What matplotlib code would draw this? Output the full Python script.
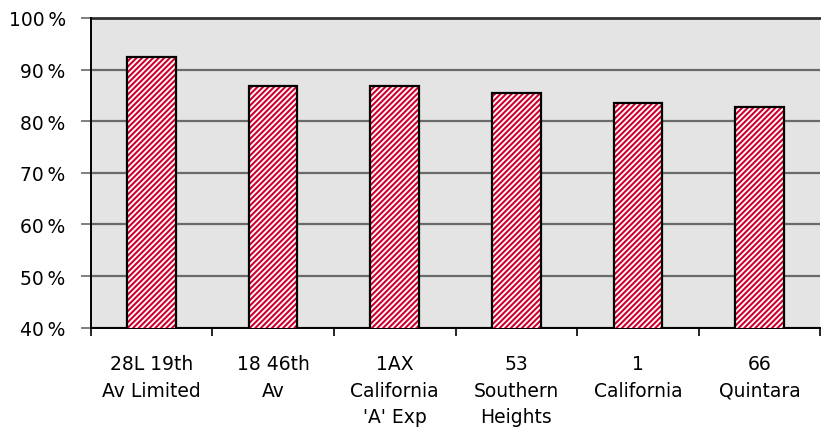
import numpy as np
import matplotlib
matplotlib.use('Agg')
import matplotlib.pyplot as plt
from matplotlib.ticker import FixedLocator, FuncFormatter

routes = ['28L 19th\nAv Limited', '18 46th\nAv', "1AX\nCalifornia\n'A' Exp",
          '53\nSouthern\nHeights', '1\nCalifornia', '66\nQuintara']
share = [92.4, 86.9, 86.9, 85.4, 83.5, 82.7]
yticks = [40, 50, 60, 70, 80, 90, 100]

plt.rcParams['font.family'] = ['DejaVu Sans']
plt.rcParams['hatch.linewidth'] = 1.5

fig = plt.figure(figsize=(8.21, 4.35), dpi=100)
ax = fig.add_axes([0.1105, 0.2444, 0.8887, 0.712])
ax.set_facecolor('#e4e4e4')

x = np.arange(len(routes))
# hatched fill first, black outline on top
ax.bar(x, share, width=0.4, color='white', edgecolor='#d0002e',
       hatch='//////', linewidth=0, zorder=3)
ax.bar(x, share, width=0.4, color='none', edgecolor='black', linewidth=1.6, zorder=4)

ax.set_ylim(40, 100)
ax.set_xlim(-0.5, len(routes) - 0.5)
ax.set_yticks(yticks)
ax.yaxis.set_major_formatter(FuncFormatter(lambda v, p: f'{v:.0f}\u2009%'))
ax.grid(axis='y', color='#6a6a6a', linewidth=1.6, zorder=1)
ax.set_axisbelow(True)
ax.axhline(100, color='#333333', linewidth=2, zorder=2, clip_on=False)

ax.set_xticks(x)
ax.set_xticklabels(routes, fontsize=13.5, linespacing=1.5, va='top')
ax.xaxis.set_minor_locator(FixedLocator(np.arange(len(routes) + 1) - 0.5))
ax.tick_params(axis='x', which='major', length=0, pad=19)
ax.tick_params(axis='x', which='minor', length=6, width=1.2, color='black')
ax.tick_params(axis='y', length=7, width=1.2, color='#6a6a6a', labelsize=13.5, pad=11)

for s in ['top', 'right']:
    ax.spines[s].set_visible(False)
ax.spines['left'].set_linewidth(1.4)
ax.spines['bottom'].set_linewidth(1.4)

fig.savefig('out.png', dpi=100)
